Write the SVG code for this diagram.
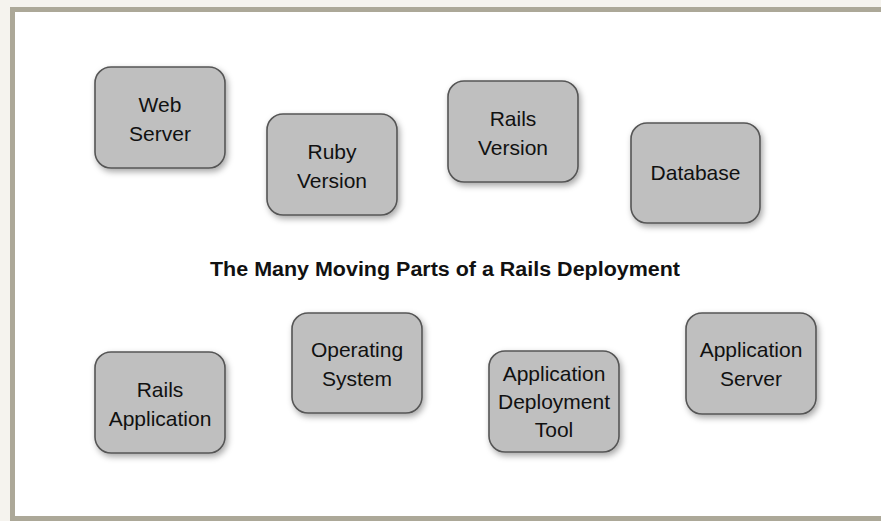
<svg xmlns="http://www.w3.org/2000/svg" width="881" height="521" viewBox="0 0 881 521">
<defs>
<filter id="sh" x="-20%" y="-20%" width="140%" height="150%">
<feDropShadow dx="2" dy="3" stdDeviation="3" flood-color="#000" flood-opacity="0.35"/>
</filter>
<style>
.box{fill:#bfbfbf;stroke:#555;stroke-width:1.6;filter:url(#sh)}
.lbl{font-family:"Liberation Sans",Arial,sans-serif;font-size:21px;fill:#111;text-anchor:middle}
.title{font-family:"Liberation Sans",Arial,sans-serif;font-size:20px;font-weight:bold;fill:#111;text-anchor:middle}
</style>
</defs>
<rect x="0" y="0" width="881" height="521" fill="#f5f3ee"/>
<rect x="10" y="7" width="880" height="520" fill="#aca898"/>
<rect x="15" y="12" width="870" height="504" fill="#fff"/>
<g id="connectors"></g>
<g id="web-server"><rect class="box" x="95" y="67" width="130" height="101" rx="16"/><text class="lbl" x="160" y="112">Web</text><text class="lbl" x="160" y="141">Server</text></g>
<g id="ruby-version"><rect class="box" x="267" y="114" width="130" height="101" rx="16"/><text class="lbl" x="332" y="159">Ruby</text><text class="lbl" x="332" y="188">Version</text></g>
<g id="rails-version"><rect class="box" x="448" y="81" width="130" height="101" rx="16"/><text class="lbl" x="513" y="126">Rails</text><text class="lbl" x="513" y="155">Version</text></g>
<g id="database"><rect class="box" x="631" y="123" width="129" height="100" rx="16"/><text class="lbl" x="695.5" y="180">Database</text></g>
<g id="title"><text class="title" x="445" y="276" textLength="470" lengthAdjust="spacingAndGlyphs">The Many Moving Parts of a Rails Deployment</text></g>
<g id="rails-application"><rect class="box" x="95" y="352" width="130" height="101" rx="16"/><text class="lbl" x="160" y="397">Rails</text><text class="lbl" x="160" y="426">Application</text></g>
<g id="operating-system"><rect class="box" x="292" y="313" width="130" height="100" rx="16"/><text class="lbl" x="357" y="357">Operating</text><text class="lbl" x="357" y="386">System</text></g>
<g id="deployment-tool"><rect class="box" x="489" y="351" width="130" height="101" rx="16"/><text class="lbl" x="554" y="381">Application</text><text class="lbl" x="554" y="409">Deployment</text><text class="lbl" x="554" y="437">Tool</text></g>
<g id="application-server"><rect class="box" x="686" y="313" width="130" height="101" rx="16"/><text class="lbl" x="751" y="357">Application</text><text class="lbl" x="751" y="386">Server</text></g>
</svg>
